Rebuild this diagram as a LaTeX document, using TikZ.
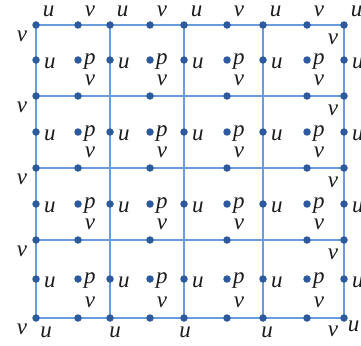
\documentclass[tikz,border=0pt]{standalone}
\usepackage{fontspec}
\setmainfont{Liberation Serif}
\usetikzlibrary{positioning,backgrounds}
\definecolor{gridblue}{HTML}{6A9BDB}
\definecolor{dotblue}{HTML}{2C5A9C}
\definecolor{ink}{HTML}{1C1C1C}

\begin{document}
\begin{tikzpicture}[x=1pt,y=-1pt,
  dot/.style={circle,fill=dotblue,inner sep=0pt,minimum size=7.5pt},
  lbl/.style={font=\fontsize{23}{23}\selectfont\itshape,text=ink,inner sep=0pt},
  gline/.style={draw=gridblue,line width=1.5pt}]
\useasboundingbox (0,0) rectangle (361,345);
% boundary nodes of the grid
\foreach \j/\y in {0/25,1/96,2/168,3/240,4/318} {
  \node[dot] (l\j) at (36,\y) {};
  \node[dot] (r\j) at (344,\y) {};
  \node[lbl,below left=3pt and 6pt of l\j] {v};
}
\foreach \j in {0,...,3} \node[lbl,below left=6pt and 3pt of r\j] {v};
\foreach \i/\x in {1/110,2/184,3/263} {
  \node[dot] (t\i) at (\x,25) {};
  \node[dot] (b\i) at (\x,318) {};
}
% labels on the top and bottom rows
\foreach \n in {l0,t1,t2,t3,r0} \node[lbl,above right=5pt and 4pt of \n] {u};
\foreach \n/\dx in {l4/10,b1/5,b2/1,b3/4} \node[lbl,below=5pt of \n,xshift=\dx pt] {u};
\node[lbl,below left=5pt and 3pt of r4] {v};
\node[lbl,below right=0pt and 1pt of r4] {u};
% u on the vertical edges
\foreach \i/\x in {0/36,1/110,2/184,3/263,4/344} {
  \foreach \j/\y in {1/60,2/132,3/204,4/279} {
    \node[dot] (u-\i-\j) at (\x,\y) {};
    \node[lbl,right=4pt of u-\i-\j,yshift=-3pt] {u};
  }
}
% p in the cells, v on the horizontal edges
\foreach \i/\m in {1/78,2/150,3/227,4/307} {
  \node[dot] (v-\i-0) at (\m,25) {};
  \node[lbl,above right=5pt and 4pt of v-\i-0] {v};
  \foreach \j/\y/\yb in {1/60/96,2/132/168,3/204/240,4/279/318} {
    \node[dot] (p-\i-\j) at (\m,\y) {};
    \node[lbl,right=2pt of p-\i-\j,yshift=-2pt] {p};
    \node[dot] (v-\i-\j) at (\m,\yb) {};
    \node[lbl,above right=7pt and 4pt of v-\i-\j] {v};
  }
}
% grid lines
\begin{scope}[on background layer]
  \foreach \j in {0,...,4} \draw[gline] (l\j.center) -- (r\j.center);
  \draw[gline] (l0.center) -- (l4.center);
  \draw[gline] (r0.center) -- (r4.center);
  \foreach \i in {1,2,3} \draw[gline] (t\i.center) -- (b\i.center);
\end{scope}
\end{tikzpicture}
\end{document}
